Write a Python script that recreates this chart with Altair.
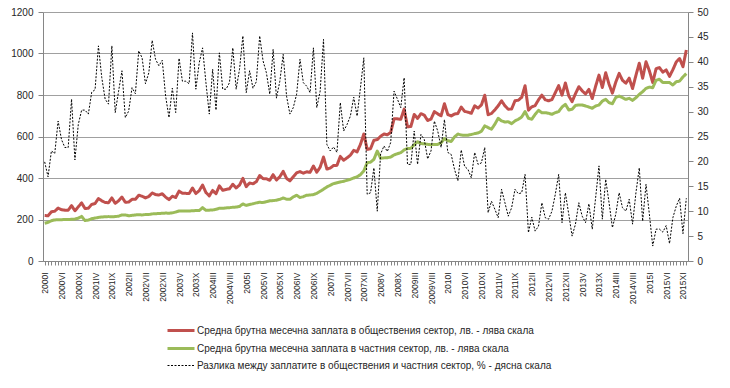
import altair as alt
import pandas as pd

YEARS = list(range(2000, 2016))
ROMAN = ["I", "II", "III", "IV", "V", "VI", "VII", "VIII", "IX", "X", "XI", "XII"]
MONTHS = [f"{y}{r}" for y in YEARS for r in ROMAN]

# Average gross monthly wage, public sector (BGN) - left axis
PUBLIC = [
    219, 218, 237, 240, 255, 247, 245, 245, 267, 242, 261, 280, 253, 254, 273, 277,
    301, 290, 282, 281, 304, 278, 290, 308, 283, 284, 297, 297, 317, 312, 304, 311,
    328, 320, 318, 324, 308, 296, 312, 306, 337, 326, 326, 325, 352, 325, 339, 366,
    330, 314, 340, 324, 362, 341, 345, 348, 370, 352, 366, 398, 358, 376, 372, 382,
    412, 397, 396, 389, 416, 390, 406, 432, 398, 386, 406, 425, 431, 423, 430, 427,
    458, 428, 452, 501, 443, 448, 460, 461, 504, 486, 497, 510, 533, 526, 562, 612,
    538, 541, 582, 585, 601, 612, 608, 620, 685, 685, 683, 732, 647, 648, 706, 687,
    710, 703, 677, 684, 720, 709, 700, 758, 706, 699, 708, 711, 742, 721, 717, 712,
    748, 737, 752, 799, 705, 711, 728, 748, 772, 748, 731, 733, 772, 775, 789, 845,
    727, 743, 749, 777, 799, 777, 772, 778, 811, 845, 799, 858, 796, 768, 806, 840,
    820, 805, 827, 783, 842, 896, 836, 907, 852, 809, 862, 904, 871, 857, 881, 831,
    895, 953, 881, 960, 917, 860, 927, 932, 910, 921, 890, 922, 959, 976, 936, 1017,
]

# Average gross monthly wage, private sector (BGN) - left axis
PRIVATE = [
    182, 186, 194, 198, 199, 199, 200, 200, 201, 202, 206, 215, 195, 197, 204, 207,
    210, 212, 213, 214, 213, 214, 216, 222, 222, 218, 220, 222, 223, 222, 224, 224,
    227, 228, 229, 230, 231, 230, 232, 236, 241, 241, 241, 241, 242, 243, 243, 257,
    244, 245, 246, 249, 254, 254, 256, 257, 259, 260, 263, 275, 268, 272, 276, 280,
    283, 282, 286, 290, 291, 293, 297, 304, 298, 297, 309, 317, 306, 310, 317, 318,
    320, 326, 336, 346, 357, 365, 373, 377, 381, 384, 389, 394, 400, 406, 416, 434,
    474, 476, 490, 530, 495, 497, 498, 501, 511, 517, 522, 535, 542, 543, 560, 575,
    566, 565, 562, 560, 562, 562, 570, 590, 580, 576, 598, 612, 607, 606, 606, 610,
    614, 617, 625, 651, 643, 635, 659, 688, 675, 670, 671, 662, 675, 683, 694, 720,
    688, 683, 707, 726, 715, 715, 712, 707, 715, 720, 742, 755, 728, 731, 750, 752,
    752, 747, 742, 736, 747, 752, 771, 779, 763, 758, 788, 795, 787, 779, 784, 774,
    787, 803, 816, 832, 838, 835, 871, 876, 860, 860, 860, 848, 864, 867, 887, 903,
]

# Difference between public and private wages (%) - right axis
DIFF = [
    19.9, 16.9, 22.1, 21.6, 28.1, 24.4, 22.8, 22.8, 32.5, 20.3, 27.4, 30.3, 30.3, 29.5, 33.9, 34.4,
    43.2, 36.8, 32.5, 31.5, 43.2, 29.8, 34.1, 38.2, 28.8, 30.1, 34.8, 33.6, 42.2, 40.8, 35.6, 37.8,
    44.3, 40.5, 39.2, 40.3, 33.1, 28.8, 34.7, 29.8, 40.7, 36.1, 36.1, 35.6, 45.8, 34.5, 39.8, 42.8,
    35.8, 29.5, 38.5, 30.3, 41.8, 34.5, 34.5, 35.8, 42.8, 34.5, 38.5, 45.2, 33.8, 38.2, 34.7, 36.0,
    45.2, 40.2, 37.8, 33.5, 42.5, 32.7, 36.1, 41.5, 33.1, 29.5, 30.8, 33.5, 40.5, 35.8, 35.1, 33.8,
    42.8, 30.8, 34.1, 44.5, 23.4, 22.1, 22.9, 21.8, 31.8, 26.1, 27.4, 29.1, 32.9, 29.1, 34.8, 40.8,
    13.4, 13.7, 18.7, 10.0, 21.5, 23.1, 22.0, 23.8, 34.1, 32.5, 30.8, 36.8, 19.4, 19.4, 26.1, 19.4,
    25.4, 24.4, 20.5, 22.1, 28.1, 26.1, 22.8, 28.4, 21.8, 21.4, 18.4, 16.1, 22.3, 19.0, 18.4, 16.7,
    21.8, 19.4, 19.7, 22.8, 9.7, 12.0, 10.4, 8.7, 14.4, 11.7, 9.0, 10.7, 14.4, 13.5, 13.7, 17.4,
    5.7, 8.8, 6.0, 7.0, 11.7, 8.7, 8.4, 10.0, 13.4, 17.4, 7.7, 13.7, 9.4, 5.0, 7.4, 11.7,
    9.0, 7.7, 11.5, 6.4, 12.7, 19.1, 8.4, 16.4, 11.7, 6.7, 9.4, 13.7, 10.7, 10.0, 12.4, 7.4,
    13.7, 18.7, 8.0, 15.4, 9.4, 3.0, 6.4, 6.4, 5.8, 7.1, 3.5, 8.7, 11.0, 12.6, 5.5, 12.6,
]

S_PUB = "Средна брутна месечна заплата в обществения сектор, лв. - лява скала"
S_PRI = "Средна брутна месечна заплата в частния сектор, лв. - лява скала"
S_DIF = "Разлика между заплатите в обществения и частния сектор, % - дясна скала"
SERIES = [S_PUB, S_PRI, S_DIF]
COLORS = ["#C0504D", "#9BBB59", "#000000"]
DASHES = [[1, 0], [1, 0], [2, 1.5]]
WIDTHS = [3.0, 3.0, 1.0]

LEFT_TICKS = [0, 200, 400, 600, 800, 1000, 1200]
RIGHT_TICKS = [0, 5, 10, 15, 20, 25, 30, 35, 40, 45, 50]

left_rows = []
for i, m in enumerate(MONTHS):
    left_rows.append({"i": i, "month": m, "series": S_PUB, "v": PUBLIC[i]})
for i, m in enumerate(MONTHS):
    left_rows.append({"i": i, "month": m, "series": S_PRI, "v": PRIVATE[i]})
df_left = pd.DataFrame(left_rows)
df_right = pd.DataFrame({"i": list(range(len(MONTHS))), "month": MONTHS,
                         "series": [S_DIF] * len(MONTHS), "v": DIFF})

FONT = "Liberation Sans"
AXIS_GRAY = "#868686"
TXT = "#262626"

month_arr = "[" + ",".join(f"'{m}'" for m in MONTHS) + "]"
label_expr = f"datum.value % 5 == 0 ? {month_arr}[datum.value] : ''"

legend = alt.Legend(
    title=None, orient="none", legendX=130, legendY=307, direction="vertical",
    symbolType="M-1.7,0L1,0", symbolSize=400, labelFontSize=10, labelFont=FONT,
    labelColor=TXT, rowPadding=0, labelOffset=1, labelLimit=600, padding=0,
)

color = alt.Color("series:N", scale=alt.Scale(domain=SERIES, range=COLORS), legend=legend)
dash = alt.StrokeDash("series:N", scale=alt.Scale(domain=SERIES, range=DASHES), legend=legend)
width = alt.StrokeWidth("series:N",
                        scale=alt.Scale(type="ordinal", domain=SERIES, range=WIDTHS),
                        legend=legend)

x_enc = alt.X(
    "i:Q",
    scale=alt.Scale(domain=[-0.5, len(MONTHS) - 0.5], nice=False, zero=False),
    axis=alt.Axis(
        values=list(range(len(MONTHS))), labelExpr=label_expr, labelAngle=270,
        labelOverlap=False, grid=False, tickSize=4, tickColor=AXIS_GRAY,
        domainColor=AXIS_GRAY, labelFontSize=8.5, labelFont=FONT, labelColor=TXT,
        labelPadding=7, title=None, labelFlush=False,
    ),
)

left = alt.Chart(df_left).mark_line(strokeJoin="round").encode(
    x=x_enc,
    y=alt.Y(
        "v:Q",
        scale=alt.Scale(domain=[0, 1200], nice=False),
        axis=alt.Axis(
            orient="left", values=LEFT_TICKS, format="d", grid=True, gridColor="#a0a0a0",
            gridWidth=1, tickSize=5, tickColor=AXIS_GRAY, domainColor=AXIS_GRAY,
            labelFontSize=10, labelFont=FONT, labelColor=TXT, labelPadding=5, title=None,
        ),
    ),
    color=color, strokeDash=dash, strokeWidth=width,
    detail="series:N",
)

right = alt.Chart(df_right).mark_line().encode(
    x=x_enc,
    y=alt.Y(
        "v:Q",
        scale=alt.Scale(domain=[0, 50], nice=False),
        axis=alt.Axis(
            orient="right", values=RIGHT_TICKS, format="d", grid=False, tickSize=5,
            tickColor=AXIS_GRAY, domainColor=AXIS_GRAY, labelFontSize=10,
            labelFont=FONT, labelColor=TXT, labelPadding=4, title=None,
        ),
    ),
    color=color, strokeDash=dash, strokeWidth=width,
)

chart = (
    alt.layer(left, right)
    .resolve_scale(y="independent")
    .properties(
        width=645, height=249,
        padding={"left": 35, "top": 4, "right": 34, "bottom": 119},
        autosize=alt.AutoSizeParams(type="none"),
        background="white",
    )
    .configure_view(strokeWidth=0)
)

chart.save("out.html", embed_options={"renderer": "svg", "actions": False})
